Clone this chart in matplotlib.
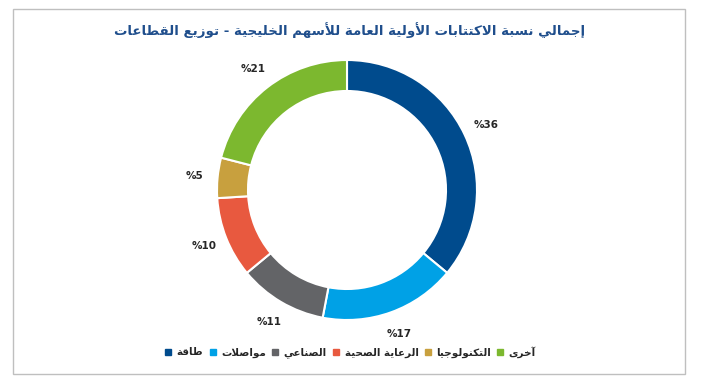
import matplotlib
matplotlib.use('Agg')
import matplotlib.pyplot as plt
from matplotlib.lines import Line2D
from matplotlib.patches import Rectangle

# chart data
title = 'إجمالي نسبة الاكتتابات الأولية العامة للأسهم الخليجية - توزيع القطاعات'
sectors = ['طاقة', 'مواصلات', 'الصناعي', 'الرعاية الصحية', 'التكنولوجيا', 'آخرى']
shares = [36, 17, 11, 10, 5, 21]
colors = ['#004b8d', '#00a1e6', '#636467', '#e8593f', '#c8a03e', '#7cb82f']

# matplotlib has no Arabic text shaping, so pick the presentation forms by hand
DUAL = {'ب': 0xFE8F, 'ت': 0xFE95, 'ث': 0xFE99, 'ج': 0xFE9D, 'ح': 0xFEA1, 'خ': 0xFEA5,
        'س': 0xFEB1, 'ش': 0xFEB5, 'ص': 0xFEB9, 'ض': 0xFEBD, 'ط': 0xFEC1, 'ظ': 0xFEC5,
        'ع': 0xFEC9, 'غ': 0xFECD, 'ف': 0xFED1, 'ق': 0xFED5, 'ك': 0xFED9, 'ل': 0xFEDD,
        'م': 0xFEE1, 'ن': 0xFEE5, 'ه': 0xFEE9, 'ي': 0xFEF1}
RIGHT = {'ا': 0xFE8D, 'أ': 0xFE83, 'إ': 0xFE87, 'آ': 0xFE81, 'د': 0xFEA9, 'ذ': 0xFEAB,
         'ر': 0xFEAD, 'ز': 0xFEAF, 'و': 0xFEED, 'ة': 0xFE93, 'ى': 0xFEEF}
LAM_ALEF = {'آ': 0xFEF5, 'أ': 0xFEF7, 'إ': 0xFEF9, 'ا': 0xFEFB}


def shape(text):
    out = []
    i = 0
    n = len(text)
    while i < n:
        c = text[i]
        prev = text[i - 1] if i > 0 else ''
        nxt = text[i + 1] if i + 1 < n else ''
        from_prev = prev in DUAL
        if c == 'ل' and nxt in LAM_ALEF:
            out.append(chr(LAM_ALEF[nxt] + from_prev))
            i += 2
            continue
        if c in DUAL:
            to_next = nxt in DUAL or nxt in RIGHT
            if from_prev and to_next:
                code = DUAL[c] + 3
            elif from_prev:
                code = DUAL[c] + 1
            elif to_next:
                code = DUAL[c] + 2
            else:
                code = DUAL[c]
        elif c in RIGHT:
            code = RIGHT[c] + from_prev
        else:
            code = ord(c)
        out.append(chr(code))
        i += 1
    return ''.join(out)[::-1]


plt.rcParams['font.family'] = ['DejaVu Sans']

fig = plt.figure(figsize=(7.02, 3.79), dpi=100)
ax = fig.add_axes([0, 0, 1, 1])

# donut, centre and radius in pixels
wedges, texts, autotexts = ax.pie(
    shares, colors=colors, radius=130, center=(347, 379 - 190),
    startangle=90, counterclock=False,
    wedgeprops=dict(width=31, edgecolor='white', linewidth=1.5),
    autopct=lambda p: '%%%d' % round(p), pctdistance=1.18,
    textprops=dict(fontsize=7.5, fontweight='bold', color='#262626'))

ax.set_xlim(0, 702)
ax.set_ylim(0, 379)
ax.set_aspect('equal')
ax.axis('off')

# frame around the chart
fig.patches.append(Rectangle((13 / 702, 1 - 374 / 379), 672 / 702, 365 / 379,
                             transform=fig.transFigure, fill=False,
                             edgecolor='#bfbfbf', linewidth=1))

fig.text(350 / 702, 1 - 30 / 379, shape(title), ha='center', va='center',
         fontsize=9.6, fontweight='bold', color='#1f4e8c')

handles = [Line2D([], [], linestyle='none', marker='s', markersize=4.5,
                  markerfacecolor=c, markeredgecolor=c) for c in colors]
fig.legend(handles, [shape(s) for s in sectors], loc='center',
           bbox_to_anchor=(350 / 702, 1 - 352 / 379), ncol=6, frameon=False,
           prop=dict(size=7.5, weight='bold'), labelcolor='#262626',
           handlelength=0.8, handletextpad=0.4, columnspacing=0.5)

plt.savefig('out.png', dpi=100)
